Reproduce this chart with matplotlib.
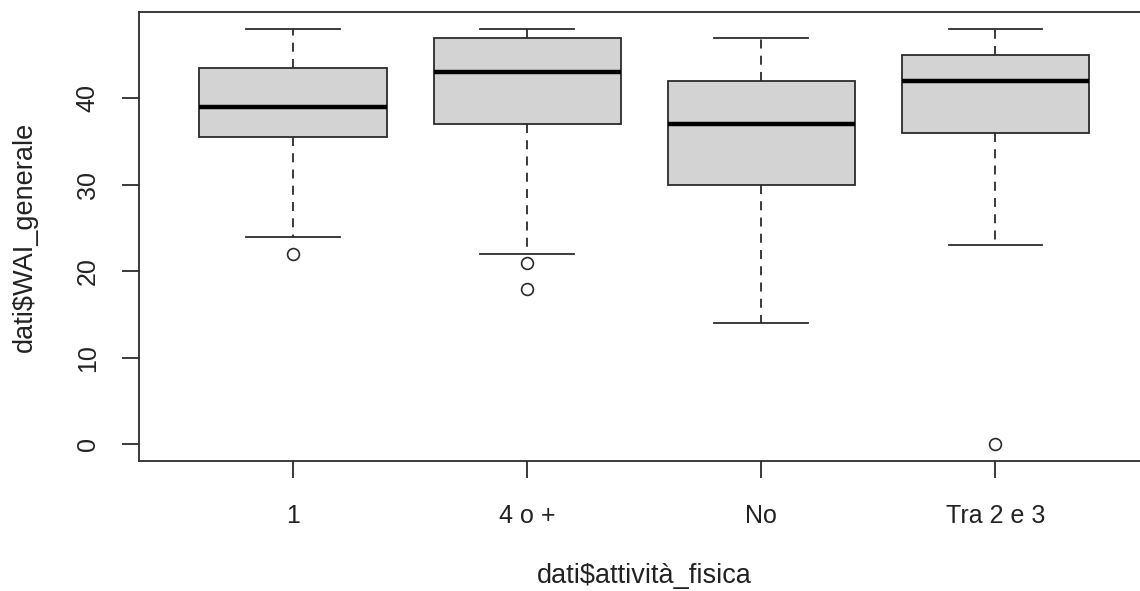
import matplotlib
matplotlib.use("Agg")
import matplotlib.pyplot as plt

# Summary statistics of WAI_generale for each level of attività_fisica
groups = ["1", "4 o +", "No", "Tra 2 e 3"]
medians = [39, 43, 37, 42]
q1 = [35.5, 37, 30, 36]
q3 = [43.5, 47, 42, 45]
whisker_low = [24, 22, 14, 23]
whisker_high = [48, 48, 47, 48]
outliers = [[22], [21, 18], [], [0]]

y_ticks = [0, 10, 20, 30, 40]


def build_stats():
    """Turns the named lists into the dicts that Axes.bxp expects."""
    stats = []
    for i, name in enumerate(groups):
        stats.append({
            "label": name,
            "med": medians[i],
            "q1": q1[i],
            "q3": q3[i],
            "whislo": whisker_low[i],
            "whishi": whisker_high[i],
            "fliers": outliers[i],
        })
    return stats


def box_plot(stats):
    """R-style boxplot: grey boxes, thick medians, dashed whiskers, open circles."""
    plt.rcParams["font.family"] = ["Liberation Sans", "DejaVu Sans"]
    fig = plt.figure(figsize=(11.4, 5.91), dpi=100)
    # the plot region runs past the right edge of the figure
    ax = fig.add_axes([0.1216, 0.22, 0.887, 0.759])

    edge = "#2b2b2b"
    ax.bxp(
        stats,
        positions=range(1, len(groups) + 1),
        widths=0.8,
        capwidths=0.4,
        patch_artist=True,
        boxprops=dict(facecolor="#d3d3d3", edgecolor=edge, linewidth=1.3),
        medianprops=dict(color="black", linewidth=3.2, solid_capstyle="butt"),
        whiskerprops=dict(color=edge, linewidth=1.3, linestyle=(0, (5, 4))),
        capprops=dict(color=edge, linewidth=1.3),
        flierprops=dict(marker="o", markersize=8.5, markerfacecolor="none",
                        markeredgecolor=edge, markeredgewidth=1.2),
    )

    # R pads the data range by 4% on each side
    n = len(groups)
    ax.set_xlim(0.5 - 0.04 * n, n + 0.5 + 0.04 * n)
    ax.set_ylim(-0.04 * 48, 48 * 1.04)

    ax.set_xticks(range(1, n + 1))
    ax.set_xticklabels(groups)
    ax.set_yticks(y_ticks)
    ax.set_yticklabels([str(t) for t in y_ticks], rotation=90, va="center")

    for side in ["left", "bottom", "top", "right"]:
        ax.spines[side].set_color(edge)
        ax.spines[side].set_linewidth(1.3)

    ax.tick_params(axis="both", direction="out", length=12, width=1.3,
                   color=edge, labelsize=18, labelcolor="#222222")
    ax.tick_params(axis="x", pad=19)
    ax.tick_params(axis="y", pad=16)

    ax.set_xlabel("dati$attività_fisica", fontsize=19.5, color="#222222", labelpad=25)
    ax.set_ylabel("dati$WAI_generale", fontsize=19.5, color="#222222", labelpad=27)

    fig.savefig("out.png", dpi=100)


def main():
    box_plot(build_stats())


if __name__ == "__main__":
    main()
